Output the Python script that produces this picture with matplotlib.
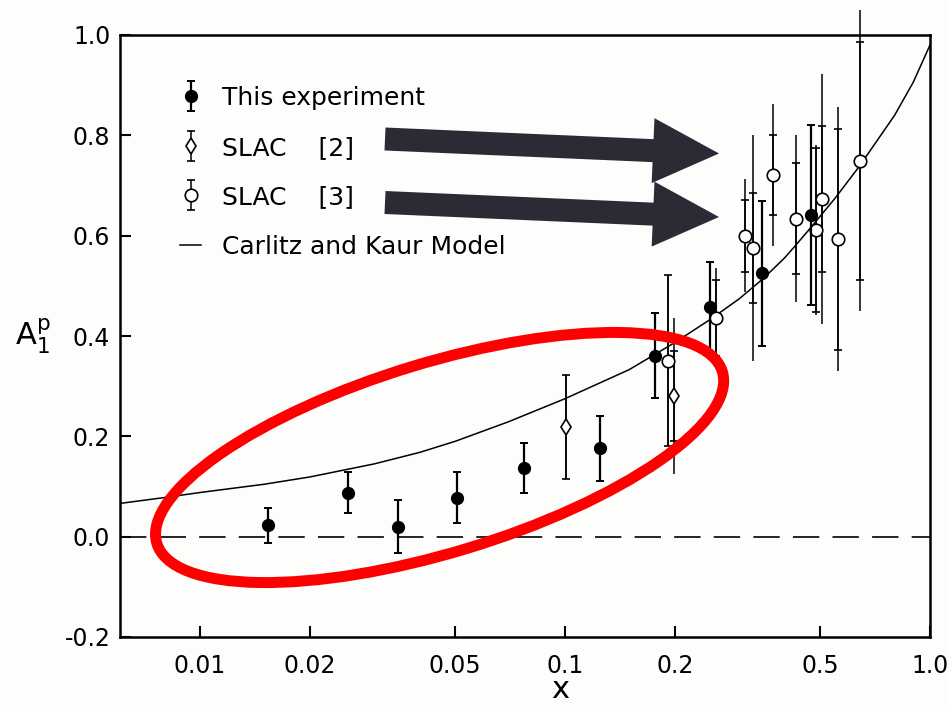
import matplotlib
matplotlib.use("Agg")
import matplotlib.pyplot as plt
from matplotlib.patches import Ellipse, FancyArrow
from matplotlib.legend_handler import HandlerErrorbar
from matplotlib.container import ErrorbarContainer
from matplotlib.ticker import NullLocator

plt.rcParams['font.family'] = 'DejaVu Sans'
plt.rcParams['mathtext.fontset'] = 'dejavusans'
plt.rcParams['lines.scale_dashes'] = False

# this experiment (filled circles)
emc_x = [0.0154, 0.0254, 0.0348, 0.0505, 0.0772, 0.1247, 0.1764, 0.2496, 0.3459, 0.4712]
emc_y = [0.023, 0.088, 0.020, 0.078, 0.137, 0.176, 0.361, 0.457, 0.525, 0.641]
emc_err = [0.035, 0.040, 0.053, 0.050, 0.049, 0.065, 0.085, 0.090, 0.145, 0.180]

# SLAC [2] (diamonds): statistical and total errors
slac2_x = [0.1004, 0.1993]
slac2_y = [0.218, 0.280]
slac2_stat = [0.104, 0.090]
slac2_tot = [0.104, 0.156]

# SLAC [3] (open circles)
slac3_x = [0.1911, 0.2593, 0.3113, 0.3281, 0.3722, 0.4295, 0.4862, 0.5070, 0.5608, 0.6432]
slac3_y = [0.351, 0.436, 0.600, 0.575, 0.721, 0.634, 0.611, 0.673, 0.593, 0.749]
slac3_stat = [0.170, 0.076, 0.072, 0.110, 0.080, 0.111, 0.164, 0.146, 0.220, 0.237]
slac3_tot = [0.170, 0.100, 0.113, 0.225, 0.142, 0.166, 0.170, 0.250, 0.263, 0.300]

# Carlitz and Kaur model
model_x = [0.006, 0.008, 0.01, 0.015, 0.02, 0.03, 0.04, 0.05, 0.07, 0.1, 0.15, 0.2,
           0.25, 0.3, 0.35, 0.4, 0.43, 0.47, 0.55, 0.64, 0.8, 0.9, 1.0]
model_y = [0.066, 0.078, 0.088, 0.1045, 0.119, 0.145, 0.168, 0.190, 0.229, 0.275, 0.333, 0.387,
           0.433, 0.474, 0.515, 0.556, 0.582, 0.615, 0.675, 0.738, 0.840, 0.906, 0.980]

xticks = [0.01, 0.02, 0.05, 0.1, 0.2, 0.5, 1.0]
xtick_labels = ['0.01', '0.02', '0.05', '0.1', '0.2', '0.5', '1.0']
yticks = [-0.2, 0.0, 0.2, 0.4, 0.6, 0.8, 1.0]
ytick_labels = ['-0.2', '0.0', '0.2', '0.4', '0.6', '0.8', '1.0']

bg = '#fdfdfc'
W, H = 949, 706
fig = plt.figure(figsize=(W / 100, H / 100), dpi=100, facecolor=bg)
ax = fig.add_axes([120 / W, 1 - 637 / H, 810 / W, 602 / H], facecolor=bg)
ax.set_xscale('log')
ax.set_xlim(0.00604, 1.0)
ax.set_ylim(-0.2, 1.0)

ax.axhline(0, color='k', lw=1.2, dashes=(19, 9.5), zorder=1)
h_model, = ax.plot(model_x, model_y, color='k', lw=1.1, zorder=2)

# SLAC total errors, plain lines
for xs, ys, tot in [(slac2_x, slac2_y, slac2_tot), (slac3_x, slac3_y, slac3_tot)]:
    eb = ax.errorbar(xs, ys, yerr=tot, fmt='none', ecolor='k', elinewidth=1.1, capsize=0, zorder=3)
    for art in eb.get_children():
        art.set_clip_on(False)

h_s2 = ax.errorbar(slac2_x, slac2_y, yerr=slac2_stat, fmt='d', ms=8, mfc='white', mec='k',
                   mew=1.2, ecolor='k', elinewidth=1.1, capsize=3, capthick=1.3, zorder=4)
h_s3 = ax.errorbar(slac3_x, slac3_y, yerr=slac3_stat, fmt='o', ms=9, mfc='white', mec='k',
                   mew=1.2, ecolor='k', elinewidth=1.1, capsize=3, capthick=1.3, zorder=4)
h_emc = ax.errorbar(emc_x, emc_y, yerr=emc_err, fmt='o', ms=8.5, color='k',
                    elinewidth=1.6, capsize=3, capthick=1.4, zorder=5)
for eb in (h_s2, h_s3, h_emc):
    for art in eb.get_children():
        art.set_clip_on(False)

ax.set_xticks(xticks, labels=xtick_labels)
ax.xaxis.set_minor_locator(NullLocator())
ax.set_yticks(yticks, labels=ytick_labels)
ax.tick_params(direction='in', length=8, width=1.5, labelsize=17)
ax.tick_params(axis='x', pad=12)
ax.tick_params(axis='y', pad=7)
for sp in ax.spines.values():
    sp.set_linewidth(1.8)

leg = ax.legend([h_emc, h_s2, h_s3, h_model],
                ['This experiment', 'SLAC    [2]', 'SLAC    [3]', 'Carlitz and Kaur Model'],
                loc='upper left', bbox_to_anchor=(0.074, 0.915), frameon=False, fontsize=18,
                handlelength=0.85, handletextpad=0.85, labelspacing=1.02,
                borderpad=0, borderaxespad=0,
                handler_map={ErrorbarContainer: HandlerErrorbar(yerr_size=0.6)})

fig.text(15 / W, 1 - 345 / H, r'$\mathregular{A_1^p}$', fontsize=22, va='baseline', ha='left')
fig.text(560 / W, 1 - 698 / H, 'x', fontsize=22, va='baseline', ha='center')

# annotation layer in pixel units
over = fig.add_axes([0, 0, 1, 1], zorder=10)
over.set_xlim(0, W)
over.set_ylim(H, 0)
over.axis('off')
over.patch.set_alpha(0)
for y0 in (139, 202.5):
    over.add_patch(FancyArrow(385, y0, 334, 14.5, width=23, head_width=65, head_length=66,
                              length_includes_head=True, color='#2b2b36', lw=0))
over.add_patch(Ellipse((439.6, 457.5), 591, 190, angle=-16.9, fill=False,
                       edgecolor='#ff0000', lw=7.9))

fig.savefig('out.png', dpi=100, facecolor=bg)
